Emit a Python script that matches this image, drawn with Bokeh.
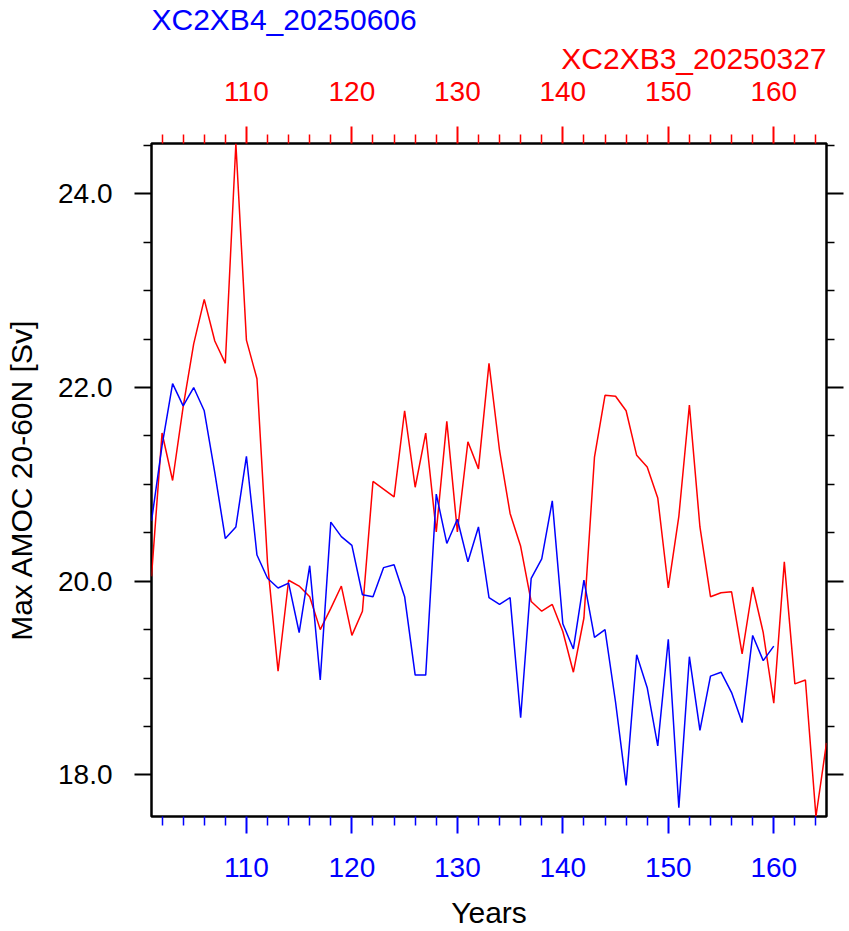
from bokeh.plotting import figure
from bokeh.models import Range1d, LinearAxis, FixedTicker, Title, PrintfTickFormatter
from bokeh.embed import file_html
from bokeh.resources import INLINE

# ---------------- data ----------------
years_b4 = list(range(101, 161))
amoc_b4 = [20.62, 21.40, 22.04, 21.81, 22.00, 21.76, 21.12, 20.44, 20.56, 21.29,
           20.27, 20.03, 19.93, 19.98, 19.47, 20.16, 18.98, 20.61, 20.46, 20.37,
           19.86, 19.84, 20.14, 20.17, 19.84, 19.03, 19.03, 20.90, 20.39, 20.64,
           20.20, 20.56, 19.83, 19.76, 19.83, 18.59, 20.03, 20.23, 20.83, 19.56,
           19.30, 20.01, 19.42, 19.50, 18.75, 17.89, 19.24, 18.90, 18.30, 19.40,
           17.66, 19.22, 18.46, 19.02, 19.06, 18.85, 18.54, 19.44, 19.18, 19.33]

years_b3 = list(range(101, 166))
amoc_b3 = [20.05, 21.53, 21.04, 21.80, 22.45, 22.91, 22.48, 22.25, 24.52, 22.49,
           22.09, 20.19, 19.07, 20.01, 19.95, 19.84, 19.50, 19.72, 19.95, 19.44,
           19.69, 21.03, 20.95, 20.87, 21.76, 20.97, 21.53, 20.51, 21.65, 20.51,
           21.44, 21.16, 22.25, 21.35, 20.70, 20.36, 19.79, 19.69, 19.76, 19.48,
           19.06, 19.62, 21.28, 21.92, 21.91, 21.76, 21.30, 21.18, 20.86, 19.93,
           20.67, 21.82, 20.56, 19.84, 19.88, 19.89, 19.25, 19.94, 19.47, 18.74,
           20.20, 18.94, 18.98, 17.57, 18.33]

name_b4 = "XC2XB4_20250606"
name_b3 = "XC2XB3_20250327"
x_title = "Years"
y_title = "Max AMOC 20-60N [Sv]"

x_major = [110, 120, 130, 140, 150, 160]
x_minor = [102, 104, 106, 108, 112, 114, 116, 118, 122, 124, 126, 128, 132, 134,
           136, 138, 142, 144, 146, 148, 152, 154, 156, 158, 162, 164]
y_major = [18, 20, 22, 24]
y_minor = [18.5, 19, 19.5, 20.5, 21, 21.5, 22.5, 23, 23.5, 24.5]

# ---------------- layout ----------------
W, H = 849, 931
BL, BR, BT, BB = 151, 23, 143, 114
FONT = "Liberation Sans"
TICK_FS = "28px"
LAB_FS = "30px"

x0 = min(min(years_b4), min(years_b3))
x1 = max(max(years_b4), max(years_b3))
y0 = min(min(amoc_b4), min(amoc_b3))
y1 = max(max(amoc_b4), max(amoc_b3))

p = figure(width=W, height=H, x_range=Range1d(x0, x1), y_range=Range1d(y0, y1),
           output_backend="svg", toolbar_location=None,
           min_border_left=BL, min_border_right=BR, min_border_top=BT, min_border_bottom=BB)
p.grid.visible = False
p.outline_line_color = "black"
p.outline_line_width = 2.5
p.background_fill_color = "white"
p.border_fill_color = "white"

p.line(years_b3, amoc_b3, line_color="red", line_width=1.5)
p.line(years_b4, amoc_b4, line_color="blue", line_width=1.5)


def style_axis(ax, color, major, minor, minor_len):
    ax.ticker = FixedTicker(ticks=major, minor_ticks=minor)
    ax.axis_line_color = None
    ax.major_tick_out = 17
    ax.major_tick_in = 0
    ax.minor_tick_out = minor_len
    ax.minor_tick_in = 0
    ax.major_tick_line_color = color
    ax.minor_tick_line_color = color
    ax.major_tick_line_width = 2
    ax.minor_tick_line_width = 1.5
    ax.major_label_text_color = color
    ax.major_label_text_font = FONT
    ax.major_label_text_font_size = TICK_FS
    ax.axis_label_text_font = FONT
    ax.axis_label_text_font_size = LAB_FS
    ax.axis_label_text_font_style = "normal"
    ax.axis_label_text_color = "black"


# bottom (blue)
xb = p.xaxis[0]
style_axis(xb, "blue", x_major, x_minor, 9)
xb.major_label_standoff = 24
xb.axis_label = x_title
xb.axis_label_standoff = 16

# top (red)
xt = LinearAxis()
style_axis(xt, "red", x_major, x_minor, 9)
xt.major_label_standoff = 26
p.add_layout(xt, "above")

# red run name, just above the top axis, right-aligned with the frame
t_b3 = Title(text=name_b3, align="right", text_color="red", text_font=FONT,
             text_font_size=LAB_FS, text_font_style="normal", standoff=8)
p.add_layout(t_b3, "above")

# blue run name, outermost, left-aligned with the frame
p.title.text = name_b4
p.title.align = "left"
p.title.text_color = "blue"
p.title.text_font = FONT
p.title.text_font_size = LAB_FS
p.title.text_font_style = "normal"
p.title.standoff = 0

# left
yl = p.yaxis[0]
style_axis(yl, "black", y_major, y_minor, 8)
yl.formatter = PrintfTickFormatter(format="%.1f")
yl.major_label_standoff = 22
yl.axis_label = y_title
yl.axis_label_standoff = 17

# right (ticks only)
yr = LinearAxis()
style_axis(yr, "black", y_major, y_minor, 8)
yr.major_label_text_color = None
yr.major_label_text_font_size = "0px"
yr.major_label_standoff = 0
p.add_layout(yr, "right")

open("out.html", "w").write(file_html(p, INLINE))
